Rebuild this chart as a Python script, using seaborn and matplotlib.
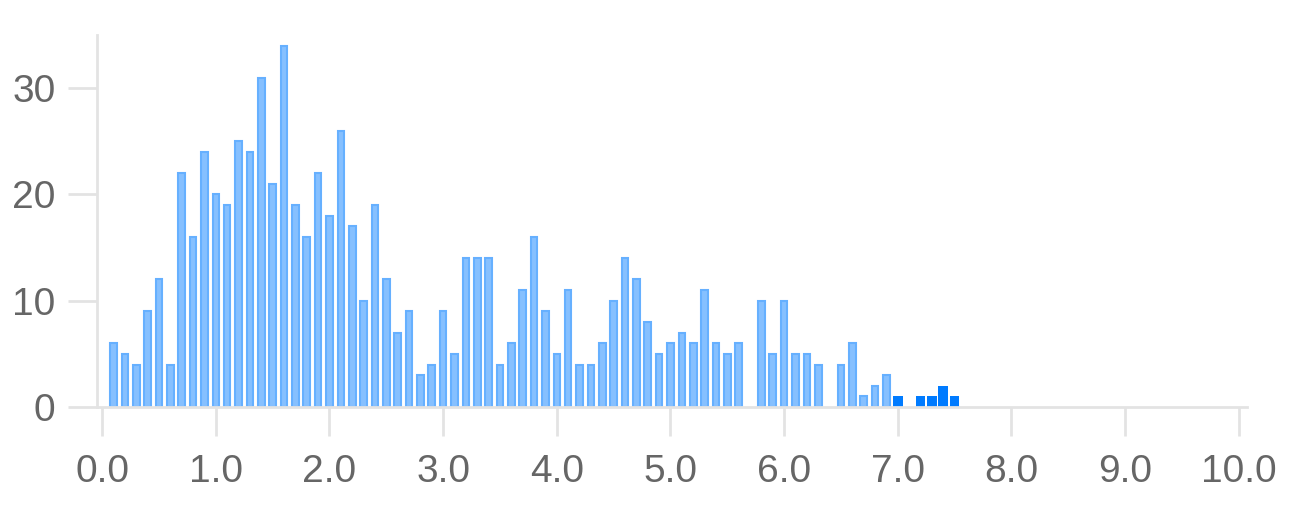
import numpy as np
import pandas as pd
import seaborn as sns
import matplotlib.pyplot as plt

# bins of width 0.1, counts
bins = [round(0.1 * i, 1) for i in range(1, 76)]
counts = [6, 5, 4, 9, 12, 4, 22, 16, 24, 20,
          19, 25, 24, 31, 21, 34, 19, 16, 22, 18,
          26, 17, 10, 19, 12, 7, 9, 3, 4, 9,
          5, 14, 14, 14, 4, 6, 11, 16, 9, 5,
          11, 4, 4, 6, 10, 14, 12, 8, 5, 6,
          7, 6, 11, 6, 5, 6, 0, 10, 5, 10,
          5, 5, 4, 0, 4, 6, 1, 2, 3, 1,
          0, 1, 1, 2, 1]
highlight_from = 7.0

x_ticks = [0, 1, 2, 3, 4, 5, 6, 7, 8, 9, 10]
y_ticks = [0, 10, 20, 30]

sns.set_style('white')
plt.rcParams['font.family'] = ['Liberation Sans', 'DejaVu Sans']

df = pd.DataFrame({'bin': bins, 'count': counts})
df = df[df['count'] > 0]
light = df[df['bin'] < highlight_from]
dark = df[df['bin'] >= highlight_from]

fig = plt.figure(figsize=(12.92, 5.08), dpi=100)
ax = fig.add_axes([0.0751, 0.1988, 0.8899, 0.7322])

sns.barplot(data=light, x='bin', y='count', native_scale=True, width=0.58,
            color='#86c0ff', edgecolor='#66b0ff', linewidth=1.5,
            saturation=1, ax=ax)
sns.barplot(data=dark, x='bin', y='count', native_scale=True, width=0.85,
            color='#007bff', linewidth=0, saturation=1, ax=ax)

ax.set_xlim(-0.045, 10.07)
ax.set_ylim(0, 35)
ax.set_xticks(x_ticks)
ax.set_xticklabels(['%.1f' % t for t in x_ticks])
ax.set_yticks(y_ticks)
ax.set_xlabel('')
ax.set_ylabel('')

for side in ['top', 'right']:
    ax.spines[side].set_visible(False)
for side in ['left', 'bottom']:
    ax.spines[side].set_color('#e3e3e3')
    ax.spines[side].set_linewidth(2)

ax.tick_params(axis='both', bottom=True, left=True, colors='#e3e3e3', width=2,
               length=21, labelcolor='#666666', labelsize=28)
ax.tick_params(axis='y', pad=9)
ax.tick_params(axis='x', pad=13)

fig.savefig('out.png', dpi=100)
